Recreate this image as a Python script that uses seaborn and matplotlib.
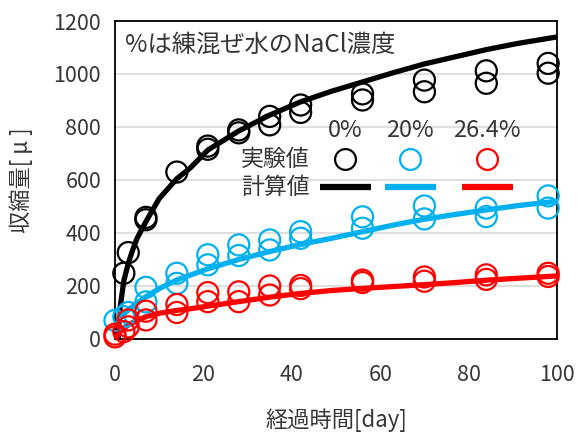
import matplotlib
matplotlib.use("Agg")
import matplotlib.pyplot as plt
import seaborn as sns
import pandas as pd

# Measured shrinkage (experiment), by NaCl concentration of mixing water
black_days = [2, 3, 7, 7, 14, 21, 21, 28, 28, 35, 35, 42, 42, 56, 56, 70, 70, 84, 84, 98, 98]
black_vals = [248, 326, 450, 459, 630, 716, 728, 778, 789, 808, 840, 855, 883, 902, 925, 933, 977, 965, 1012, 1003, 1040]

blue_days = [0, 2, 3, 7, 7, 14, 14, 21, 21, 28, 28, 35, 35, 42, 42, 56, 56, 70, 70, 84, 84, 98, 98]
blue_vals = [70, 84, 100, 140, 195, 210, 248, 280, 318, 315, 355, 336, 374, 380, 405, 418, 461, 453, 502, 462, 494, 494, 540]

red_days = [0, 0, 2, 3, 3, 7, 7, 14, 14, 21, 21, 28, 28, 35, 35, 42, 42, 56, 56, 70, 70, 84, 84, 98, 98]
red_vals = [8, 18, 28, 46, 72, 72, 105, 100, 130, 141, 175, 141, 178, 166, 200, 190, 202, 213, 222, 218, 234, 225, 242, 236, 248]

# Calculated shrinkage curves
black_curve_days = [0.7, 1, 2, 3, 4, 5, 7, 10, 14, 17, 21, 28, 35, 42, 49, 56, 63, 70, 77, 84, 91, 100]
black_curve_vals = [0, 100, 220, 285, 336, 380, 443, 530, 605, 645, 713, 785, 845, 895, 935, 970, 1005, 1038, 1065, 1092, 1115, 1140]

blue_curve_days = [0.3, 1, 2, 3, 5, 7, 10, 14, 21, 28, 35, 42, 49, 56, 63, 70, 77, 84, 91, 100]
blue_curve_vals = [50, 75, 95, 110, 135, 160, 190, 223, 265, 300, 330, 357, 380, 405, 430, 452, 470, 487, 503, 520]

red_curve_days = [0.3, 1, 2, 3, 5, 7, 10, 14, 17, 21, 28, 35, 42, 49, 56, 63, 70, 77, 84, 91, 100]
red_curve_vals = [5, 25, 40, 53, 70, 84, 97, 108, 114, 124, 141, 158, 172, 183, 191, 198, 205, 213, 222, 229, 238]

labels = ["0%", "20%", "26.4%"]
colors = ["#000000", "#00B0F0", "#FF0000"]

x_ticks = [0, 20, 40, 60, 80, 100]
y_ticks = [0, 200, 400, 600, 800, 1000, 1200]

sns.set_theme(style="white")
plt.rcParams["font.family"] = ["Noto Sans CJK JP", "DejaVu Sans"]

TXT = "#363636"

fig = plt.figure(figsize=(5.87, 4.33), dpi=100)
ax = fig.add_axes([0.1959, 0.2171, 0.753, 0.7344])

exp_sets = [(black_days, black_vals), (blue_days, blue_vals), (red_days, red_vals)]
calc_sets = [(black_curve_days, black_curve_vals), (blue_curve_days, blue_curve_vals),
             (red_curve_days, red_curve_vals)]

for (d, v), c in zip(calc_sets, colors):
    df = pd.DataFrame({"day": d, "val": v})
    sns.lineplot(data=df, x="day", y="val", ax=ax, color=c, lw=3.8,
                 estimator=None, sort=True, zorder=3, solid_capstyle="butt")

for (d, v), c in zip(exp_sets, colors):
    df = pd.DataFrame({"day": d, "val": v})
    sns.scatterplot(data=df, x="day", y="val", ax=ax, marker="o", s=230,
                    facecolors="none", edgecolor=c, linewidth=1.6, zorder=4,
                    clip_on=False)

ax.set_xlim(0, 100)
ax.set_ylim(0, 1200)
ax.set_xticks(x_ticks)
ax.set_yticks(y_ticks)
ax.yaxis.grid(True, color="#D9D9D9", lw=1.2)
ax.set_axisbelow(True)
for s in ax.spines.values():
    s.set_color("black")
    s.set_linewidth(1.3)
ax.tick_params(axis="both", direction="in", length=5, width=1.3, color="black",
               labelsize=15.5, labelcolor=TXT)
ax.tick_params(axis="y", pad=10)
ax.tick_params(axis="x", pad=18)

ax.set_xlabel("経過時間[day]", fontsize=16, color=TXT, labelpad=16)
ax.set_ylabel("収縮量[ μ ]", fontsize=16, color=TXT, labelpad=15)

ax.text(0.022, 0.925, "%は練混ぜ水のNaCl濃度", transform=ax.transAxes,
        fontsize=17.5, color=TXT, va="center", ha="left")

# Table-style legend
col_x = [0.521, 0.668, 0.842]
for x, lab, c in zip(col_x, labels, colors):
    ax.text(x, 0.655, lab, transform=ax.transAxes, fontsize=17,
            color=TXT, ha="center", va="center")
    ax.plot([x], [0.565], transform=ax.transAxes, marker="o", ms=15,
            mfc="white", mec=c, mew=1.6, ls="none", zorder=6)
    ax.plot([x - 0.058, x + 0.058], [0.478, 0.478], transform=ax.transAxes,
            color=c, lw=4.5, solid_capstyle="butt", zorder=6)
ax.text(0.362, 0.565, "実験値", transform=ax.transAxes, fontsize=16.5,
        color=TXT, ha="center", va="center")
ax.text(0.362, 0.478, "計算値", transform=ax.transAxes, fontsize=16.5,
        color=TXT, ha="center", va="center")

fig.savefig("out.png", dpi=100)
